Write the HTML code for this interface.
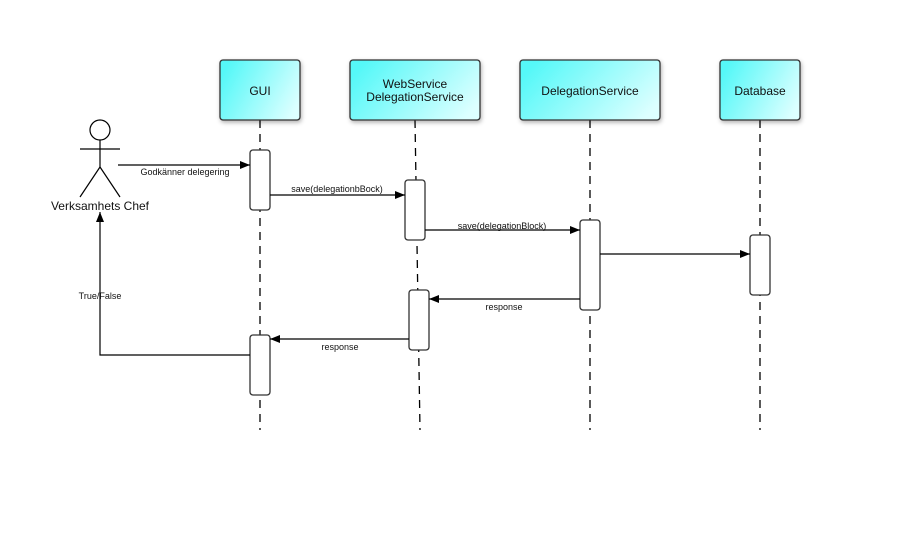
<!DOCTYPE html>
<html><head><meta charset="utf-8"><style>
html,body{margin:0;padding:0;background:#fff;width:914px;height:546px;overflow:hidden}
text{font-family:"Liberation Sans",Arial,sans-serif;fill:#111}
</style></head><body>
<svg width="914" height="546" viewBox="0 0 914 546" xmlns="http://www.w3.org/2000/svg">
<defs>
<linearGradient id="g" x1="0" y1="0.3" x2="1" y2="0.7">
<stop offset="0" stop-color="#55f8f8"/><stop offset="1" stop-color="#ddffff"/>
</linearGradient>
<filter id="sh" x="-20%" y="-20%" width="140%" height="140%"><feDropShadow dx="1" dy="2" stdDeviation="2" flood-color="#000" flood-opacity="0.3"/></filter>
<marker id="a" markerWidth="10" markerHeight="8" refX="10" refY="4" orient="auto" markerUnits="userSpaceOnUse"><path d="M0,0 L10,4 L0,8 z" fill="#000"/></marker>
</defs>
<!-- lifelines -->
<g stroke="#000" stroke-width="1.3" stroke-dasharray="8,6" fill="none">
<line x1="260" y1="120" x2="260" y2="430"/>
<line x1="415" y1="120" x2="420" y2="430"/>
<line x1="590" y1="120" x2="590" y2="430"/>
<line x1="760" y1="120" x2="760" y2="430"/>
</g>
<!-- header boxes -->
<g stroke="#333" stroke-width="1.3" fill="url(#g)" filter="url(#sh)">
<rect x="220" y="60" width="80" height="60" rx="3"/>
<rect x="350" y="60" width="130" height="60" rx="3"/>
<rect x="520" y="60" width="140" height="60" rx="3"/>
<rect x="720" y="60" width="80" height="60" rx="3"/>
</g>
<g font-size="12" text-anchor="middle">
<text x="260" y="95">GUI</text>
<text x="415" y="88">WebService</text>
<text x="415" y="101">DelegationService</text>
<text x="590" y="95">DelegationService</text>
<text x="760" y="95">Database</text>
</g>
<!-- activations -->
<g stroke="#333" stroke-width="1.3" fill="#fff">
<rect x="250" y="150" width="20" height="60" rx="3"/>
<rect x="250" y="335" width="20" height="60" rx="3"/>
<rect x="405" y="180" width="20" height="60" rx="3"/>
<rect x="409" y="290" width="20" height="60" rx="3"/>
<rect x="580" y="220" width="20" height="90" rx="3"/>
<rect x="750" y="235" width="20" height="60" rx="3"/>
</g>
<!-- actor -->
<g stroke="#000" stroke-width="1.2" fill="none">
<circle cx="100" cy="130" r="10"/>
<line x1="80" y1="149" x2="120" y2="149"/>
<line x1="100" y1="140" x2="100" y2="167"/>
<line x1="100" y1="167" x2="80" y2="197"/>
<line x1="100" y1="167" x2="120" y2="197"/>
</g>
<text x="100" y="210" font-size="12" text-anchor="middle">Verksamhets Chef</text>
<!-- messages -->
<g stroke="#000" stroke-width="1.2" fill="none" marker-end="url(#a)">
<line x1="118" y1="165" x2="250" y2="165"/>
<line x1="270" y1="195" x2="405" y2="195"/>
<line x1="425" y1="230" x2="580" y2="230"/>
<line x1="600" y1="254" x2="750" y2="254"/>
<line x1="580" y1="299" x2="429" y2="299"/>
<line x1="409" y1="339" x2="270" y2="339"/>
<polyline points="250,355 100,355 100,212"/>
</g>
<g font-size="9" text-anchor="middle">
<text x="185" y="175">Godkänner delegering</text>
<text x="337" y="192">save(delegationbBock)</text>
<text x="502" y="229">save(delegationBlock)</text>
<text x="504" y="310">response</text>
<text x="340" y="350">response</text>
<text x="100" y="299">True/False</text>
</g>
</svg>
</body></html>
